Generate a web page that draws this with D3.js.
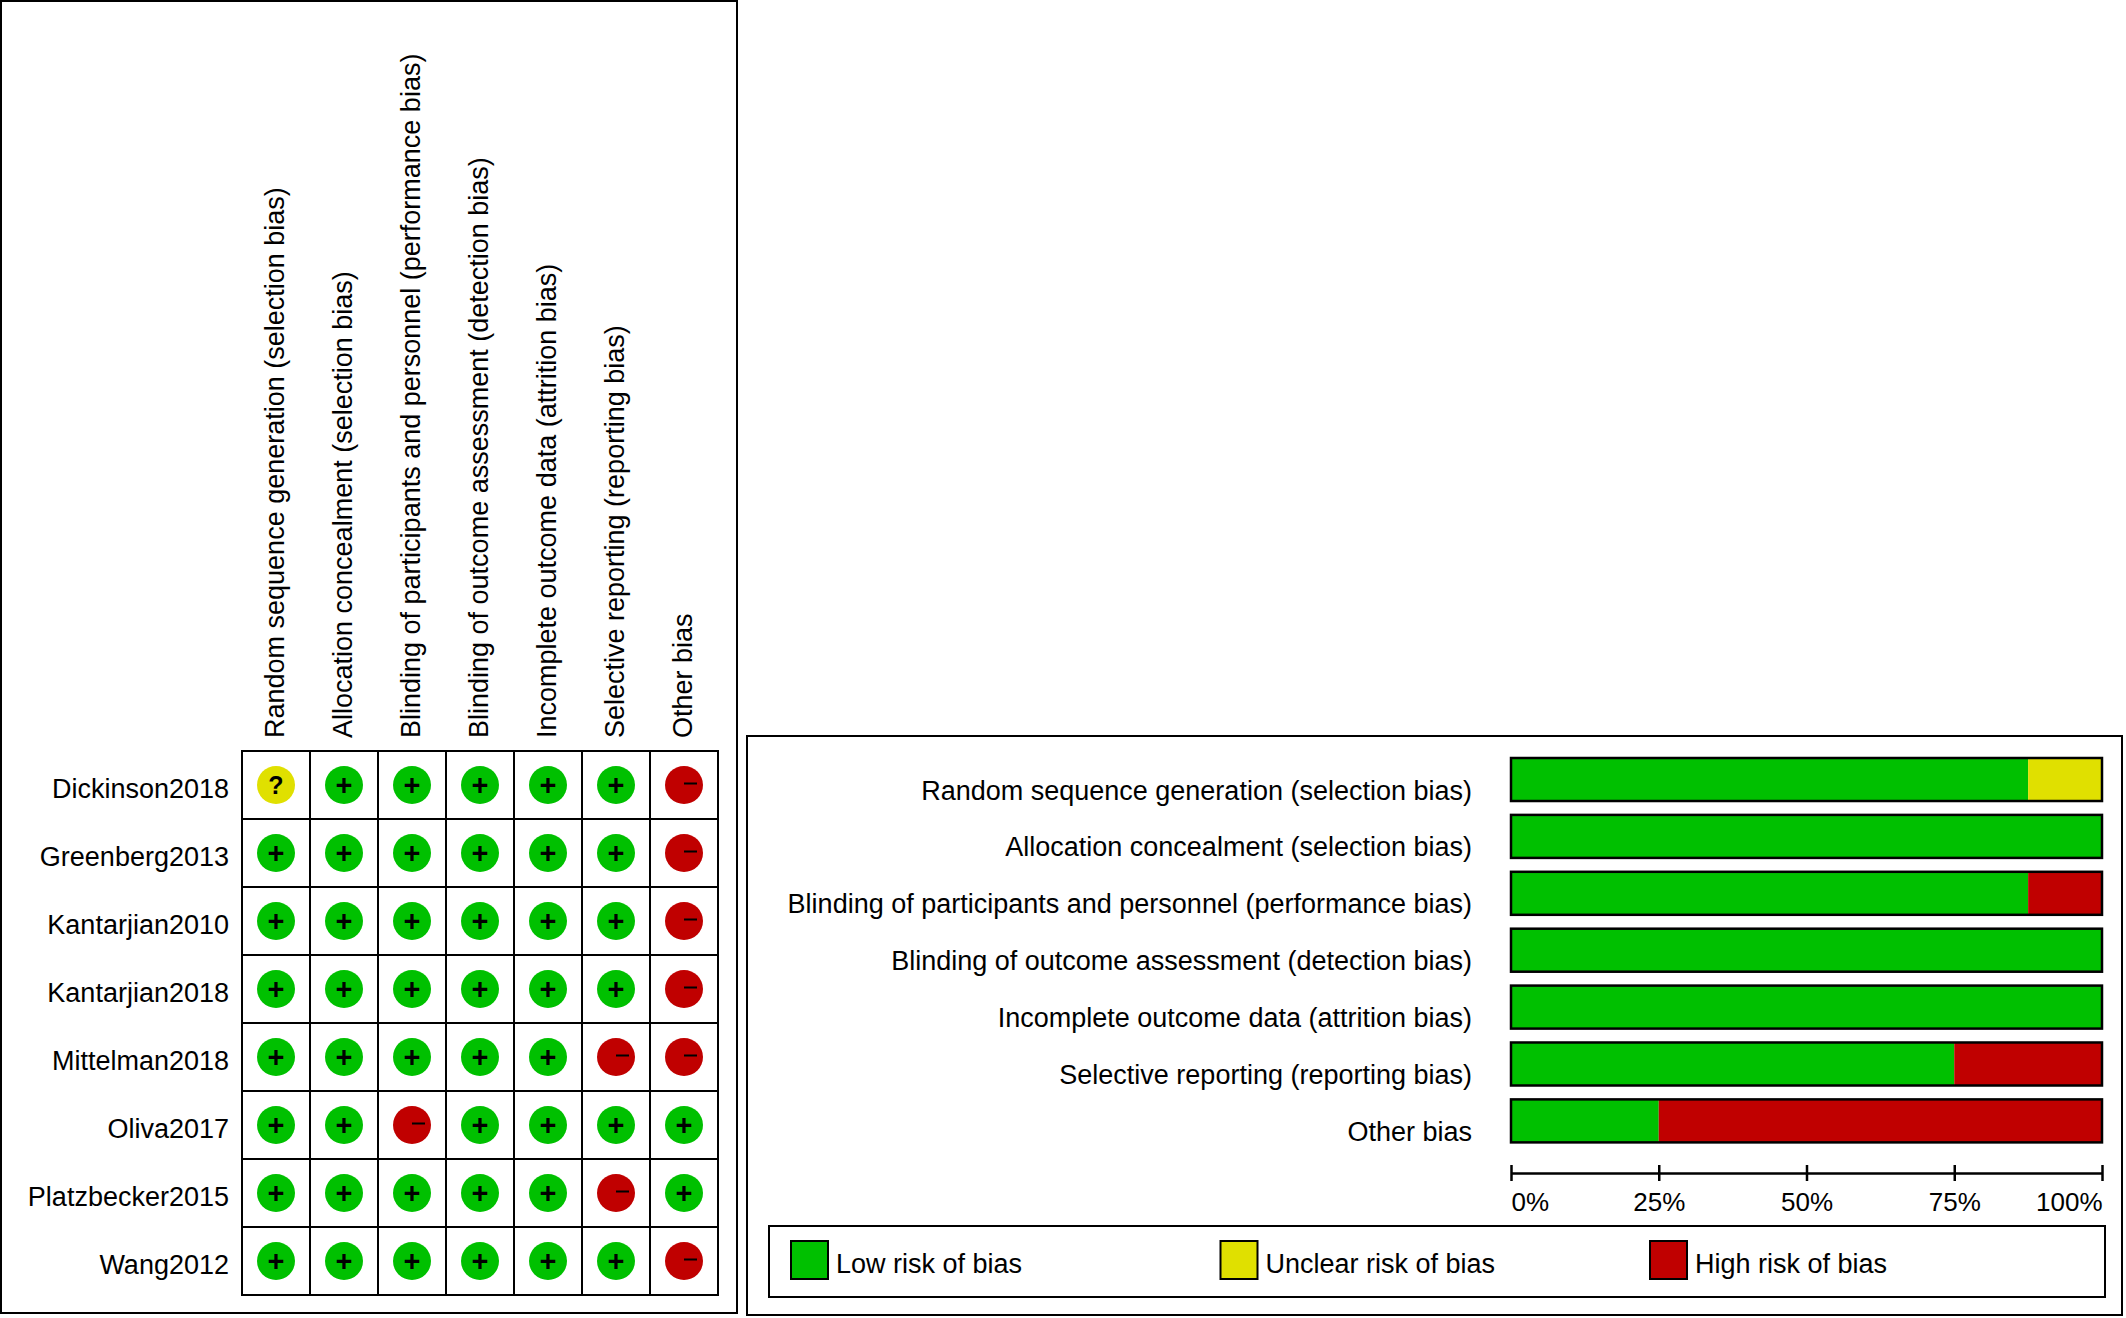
<!DOCTYPE html>
<html>
<head>
<meta charset="utf-8">
<script src="https://cdn.jsdelivr.net/npm/d3@7"></script>
<style>
  html, body { margin: 0; padding: 0; background: #fff; }
  svg { display: block; }
  text { font-family: "Liberation Sans", Arial, sans-serif; fill: #000; }
</style>
</head>
<body>
<div id="chart"></div>
<script>
// Risk of bias: traffic-light grid + summary bars
const studies = ['Dickinson2018', 'Greenberg2013', 'Kantarjian2010', 'Kantarjian2018',
  'Mittelman2018', 'Oliva2017', 'Platzbecker2015', 'Wang2012'];

const domains = [
  'Random sequence generation (selection bias)',
  'Allocation concealment (selection bias)',
  'Blinding of participants and personnel (performance bias)',
  'Blinding of outcome assessment (detection bias)',
  'Incomplete outcome data (attrition bias)',
  'Selective reporting (reporting bias)',
  'Other bias'
];

// judgements per study, one code per domain: L = low, U = unclear, H = high
const judgements = [
  ['U', 'L', 'L', 'L', 'L', 'L', 'H'],
  ['L', 'L', 'L', 'L', 'L', 'L', 'H'],
  ['L', 'L', 'L', 'L', 'L', 'L', 'H'],
  ['L', 'L', 'L', 'L', 'L', 'L', 'H'],
  ['L', 'L', 'L', 'L', 'L', 'H', 'H'],
  ['L', 'L', 'H', 'L', 'L', 'L', 'L'],
  ['L', 'L', 'L', 'L', 'L', 'H', 'L'],
  ['L', 'L', 'L', 'L', 'L', 'L', 'H']
];

// summary percentages per domain
const lowPct     = [87.5, 100, 87.5, 100, 100, 75, 25];
const unclearPct = [12.5, 0, 0, 0, 0, 0, 0];
const highPct    = [0, 0, 12.5, 0, 0, 25, 75];

const pctTicks = [0, 25, 50, 75, 100];
const legendLabels = ['Low risk of bias', 'Unclear risk of bias', 'High risk of bias'];

const colors = { L: '#00c000', U: '#e0e000', H: '#c00000' };
const legendColors = [colors.L, colors.U, colors.H];

const W = 2126, H = 1318;
const svg = d3.select('#chart').append('svg')
  .attr('width', W).attr('height', H);

// ---------- left panel: grid ----------
svg.append('rect')
  .attr('x', 1).attr('y', 1).attr('width', 736).attr('height', 1312)
  .attr('fill', 'none').attr('stroke', '#000').attr('stroke-width', 2);

const gx = d3.scaleBand().domain(domains).range([242, 718]);
const gy = d3.scaleBand().domain(studies).range([751, 1295]);
const r = 19;

// cells
studies.forEach(st => {
  domains.forEach(dm => {
    svg.append('rect')
      .attr('x', gx(dm)).attr('y', gy(st))
      .attr('width', gx.bandwidth()).attr('height', gy.bandwidth())
      .attr('fill', '#fff').attr('stroke', '#000').attr('stroke-width', 2);
  });
});

// circles + symbols
studies.forEach((st, i) => {
  domains.forEach((dm, j) => {
    const code = judgements[i][j];
    const cx = gx(dm) + gx.bandwidth() / 2;
    const cy = gy(st) + gy.bandwidth() / 2;
    svg.append('circle')
      .attr('cx', cx).attr('cy', cy).attr('r', r)
      .attr('fill', colors[code]);
    if (code === 'H') {
      svg.append('line')
        .attr('x1', cx).attr('x2', cx + 13)
        .attr('y1', cy - 1.5).attr('y2', cy - 1.5)
        .attr('stroke', '#000').attr('stroke-width', 2);
    } else if (code === 'L') {
      svg.append('text')
        .attr('x', cx).attr('y', cy + 9.5)
        .attr('text-anchor', 'middle')
        .style('font-size', '29px').style('font-weight', 'bold')
        .text('+');
    } else {
      svg.append('text')
        .attr('x', cx).attr('y', cy + 9)
        .attr('text-anchor', 'middle')
        .style('font-size', '25px').style('font-weight', 'bold')
        .text('?');
    }
  });
});

// row labels
studies.forEach(st => {
  svg.append('text')
    .attr('x', 229).attr('y', gy(st) + gy.bandwidth() / 2 + 13)
    .attr('text-anchor', 'end')
    .style('font-size', '27px')
    .text(st);
});

// rotated column headers
domains.forEach(dm => {
  const x = gx(dm) + gx.bandwidth() / 2 + 7.5;
  const y = 738;
  svg.append('text')
    .attr('x', x).attr('y', y)
    .attr('transform', `rotate(-90, ${x}, ${y})`)
    .style('font-size', '27px')
    .text(dm);
});

// ---------- right panel: summary bars ----------
svg.append('rect')
  .attr('x', 747).attr('y', 736).attr('width', 1375).attr('height', 579)
  .attr('fill', 'none').attr('stroke', '#000').attr('stroke-width', 2);

const bx = d3.scaleLinear().domain([0, 100]).range([1511, 2102]);
const by = d3.scaleBand().domain(domains).range([758, 1142.4]).paddingInner(0.244);

domains.forEach((dm, i) => {
  const parts = [
    { v: lowPct[i], c: colors.L },
    { v: unclearPct[i], c: colors.U },
    { v: highPct[i], c: colors.H }
  ];
  let acc = 0;
  parts.forEach(p => {
    if (p.v > 0) {
      svg.append('rect')
        .attr('x', bx(acc)).attr('y', by(dm))
        .attr('width', bx(acc + p.v) - bx(acc)).attr('height', by.bandwidth())
        .attr('fill', p.c);
    }
    acc += p.v;
  });
  svg.append('rect')
    .attr('x', bx(0)).attr('y', by(dm))
    .attr('width', bx(100) - bx(0)).attr('height', by.bandwidth())
    .attr('fill', 'none').attr('stroke', '#000').attr('stroke-width', 2.5);

  svg.append('text')
    .attr('x', 1472).attr('y', by(dm) + by.bandwidth() / 2 + 20)
    .attr('text-anchor', 'end')
    .style('font-size', '27px')
    .text(dm);
});

// axis
const axis = svg.append('g')
  .attr('transform', 'translate(0,1173)')
  .call(d3.axisBottom(bx).tickValues(pctTicks).tickSize(8).tickSizeOuter(0)
    .tickFormat(d => d + '%'));
axis.select('.domain').attr('stroke', '#000').attr('stroke-width', 2.5);
axis.selectAll('.tick line').attr('y1', -8).attr('y2', 8)
  .attr('stroke', '#000').attr('stroke-width', 2.5);
axis.selectAll('.tick text')
  .attr('y', 38).attr('dy', null)
  .style('font-size', '26px')
  .style('font-family', '"Liberation Sans", Arial, sans-serif')
  .attr('fill', '#000')
  .attr('text-anchor', (d, i) => i === 0 ? 'start' : (i === pctTicks.length - 1 ? 'end' : 'middle'));

// legend
svg.append('rect')
  .attr('x', 769).attr('y', 1226).attr('width', 1336).attr('height', 71)
  .attr('fill', 'none').attr('stroke', '#000').attr('stroke-width', 2);

legendLabels.forEach((lab, i) => {
  const lx = 791 + i * 429.5;
  svg.append('rect')
    .attr('x', lx).attr('y', 1241).attr('width', 37).attr('height', 38)
    .attr('fill', legendColors[i]).attr('stroke', '#000').attr('stroke-width', 2);
  svg.append('text')
    .attr('x', lx + 45).attr('y', 1273)
    .style('font-size', '27px')
    .text(lab);
});
</script>
</body>
</html>
